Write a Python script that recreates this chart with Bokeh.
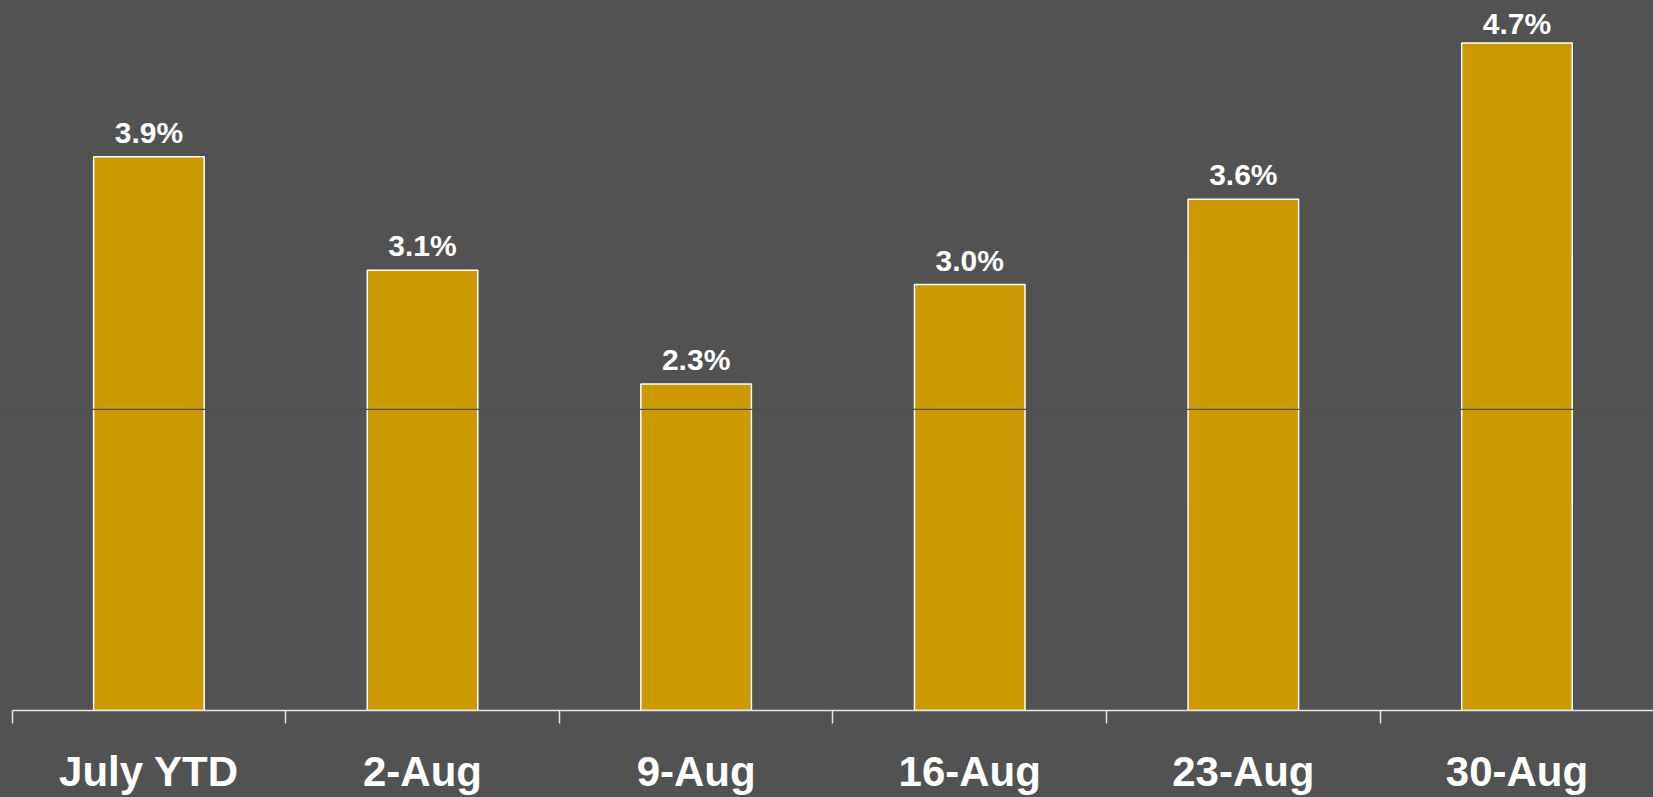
from bokeh.plotting import figure
from bokeh.models import Range1d, FixedTicker, ColumnDataSource, LabelSet, Span
from bokeh.core.properties import value
from bokeh.embed import file_html
from bokeh.resources import INLINE

categories = ["July YTD", "2-Aug", "9-Aug", "16-Aug", "23-Aug", "30-Aug"]
values = [3.9, 3.1, 2.3, 3.0, 3.6, 4.7]
value_labels = ["3.9%", "3.1%", "2.3%", "3.0%", "3.6%", "4.7%"]
ref_line = 2.12

BG = "#525252"
BAR = "#CC9900"

W, H = 1653, 797
BOTTOM = 87
Y_END = 5.0
FRAME_H = H - BOTTOM
px_per_unit = FRAME_H / Y_END

# label offset above the bar; labels near the top are pushed inside the plot
LABEL_GAP = 14
MIN_BASELINE = 33
offsets = []
for v in values:
    top_px = FRAME_H - v * px_per_unit
    baseline = max(top_px - LABEL_GAP, MIN_BASELINE)
    offsets.append(top_px - baseline)

xs = [i + 0.5 for i in range(len(categories))]
src = ColumnDataSource(dict(x=xs, top=values, lab=value_labels, off=offsets))

p = figure(width=W, height=H, output_backend="svg", toolbar_location=None,
           x_range=Range1d(-0.0424, 5.999), y_range=Range1d(0, Y_END),
           min_border_left=0, min_border_right=0, min_border_top=0, min_border_bottom=BOTTOM)
p.background_fill_color = BG
p.border_fill_color = BG
p.outline_line_color = None
p.xgrid.visible = False
p.ygrid.visible = False
p.yaxis.visible = False

p.vbar(x="x", top="top", bottom=0, width=0.404, source=src,
       fill_color=BAR, line_color="white", line_width=1.5)

p.add_layout(Span(location=ref_line, dimension="width", line_color="#505050", line_width=1.3))

p.add_layout(LabelSet(x="x", y="top", text="lab", source=src, y_offset="off",
                      text_align="center", text_baseline="alphabetic",
                      text_color="white", text_font=value("Liberation Sans"),
                      text_font_style="bold", text_font_size="30px"))

ax = p.xaxis[0]
ax.ticker = FixedTicker(ticks=xs, minor_ticks=list(range(len(categories) + 1)))
ax.major_label_overrides = {x: c for x, c in zip(xs, categories)}
ax.bounds = (0, 7)
ax.axis_line_color = "#e6e6e6"
ax.axis_line_width = 1.5
ax.major_tick_line_color = None
ax.major_tick_out = 0
ax.major_tick_in = 0
ax.minor_tick_line_color = "#e6e6e6"
ax.minor_tick_line_width = 1.5
ax.minor_tick_out = 13
ax.minor_tick_in = 0
ax.major_label_standoff = 24
ax.major_label_text_color = "white"
ax.major_label_text_font = "Liberation Sans"
ax.major_label_text_font_style = "bold"
ax.major_label_text_font_size = "42px"

html = file_html(p, INLINE)
html = html.replace("<head>", "<head><style>html,body{background:#525252;}</style>", 1)
open("out.html", "w").write(html)
